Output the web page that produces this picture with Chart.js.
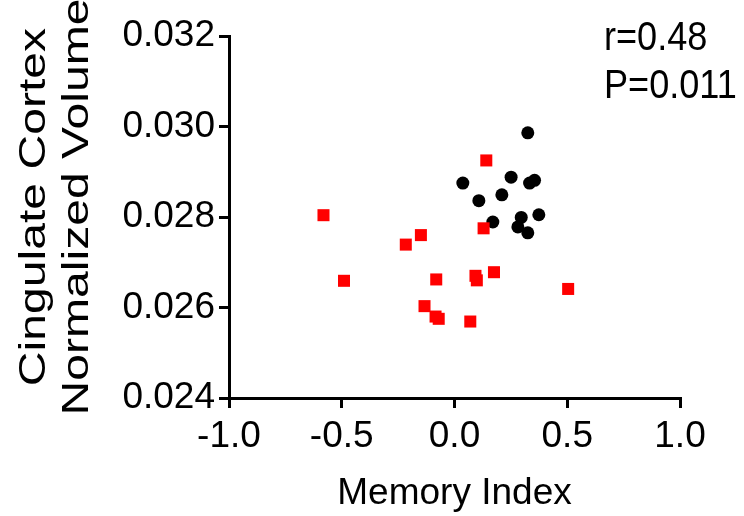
<!DOCTYPE html>
<html>
<head>
<meta charset="utf-8">
<script src="https://cdn.jsdelivr.net/npm/chart.js@4"></script>
<style>
  html, body { margin: 0; padding: 0; background: #fff; }
  #wrap { width: 744px; height: 516px; }
</style>
</head>
<body>
<div id="wrap"><canvas id="chart" width="744" height="516"></canvas></div>
<script>
// memory index vs cingulate cortex normalized volume
const redX = [-0.581, -0.490, -0.216, -0.149, -0.081, -0.133, -0.084, -0.070, 0.070, 0.141, 0.129, 0.093, 0.099, 0.175, 0.504];
const redY = [0.02804, 0.02659, 0.02739, 0.02760, 0.02662, 0.02603, 0.02580, 0.02575, 0.02569, 0.02925, 0.02775, 0.02670, 0.02660, 0.02678, 0.02641];

const blackX = [0.325, 0.037, 0.251, 0.333, 0.355, 0.108, 0.210, 0.170, 0.296, 0.281, 0.325, 0.374];
const blackY = [0.02986, 0.02875, 0.02888, 0.02875, 0.02881, 0.02836, 0.02849, 0.02789, 0.02799, 0.02778, 0.02765, 0.02805];

const xTicks = [-1.0, -0.5, 0.0, 0.5, 1.0];
const yTicks = [0.024, 0.026, 0.028, 0.030, 0.032];
const yTitle = ['Cingulate Cortex', 'Normalized Volume'];
const statLines = ['r=0.48', 'P=0.011'];

const FONT = "'Liberation Sans', Arial, sans-serif";

function toPoints(xs, ys) {
  return xs.map((x, i) => ({ x: x, y: ys[i] }));
}

// stats text in the top right corner
const statsText = {
  id: 'statsText',
  afterDraw(chart) {
    const ctx = chart.ctx;
    const area = chart.chartArea;
    ctx.save();
    ctx.fillStyle = '#000';
    ctx.font = '38px ' + FONT;
    ctx.textAlign = 'left';
    ctx.textBaseline = 'alphabetic';
    statLines.forEach((t, i) => {
      ctx.save();
      ctx.translate(area.right - 76, area.top + 14 + i * 48);
      ctx.scale(0.95, 1.05);
      ctx.fillText(t, 0, 0);
      ctx.restore();
    });
    ctx.restore();
  }
};

// the y title in the reference is stretched along its length
const yTitleText = {
  id: 'yTitleText',
  afterDraw(chart) {
    const ctx = chart.ctx;
    const area = chart.chartArea;
    const midY = (area.top + area.bottom) / 2 - 10;
    ctx.save();
    ctx.fillStyle = '#000';
    ctx.font = '37px ' + FONT;
    ctx.textAlign = 'center';
    ctx.textBaseline = 'alphabetic';
    yTitle.forEach((t, i) => {
      ctx.save();
      ctx.translate(45 + i * 43, midY);
      ctx.rotate(-Math.PI / 2);
      ctx.scale(1.3, 1);
      ctx.fillText(t, 0, 0);
      ctx.restore();
    });
    ctx.restore();
  }
};

const ctx = document.getElementById('chart').getContext('2d');
const chart = new Chart(ctx, {
  type: 'scatter',
  data: {
    datasets: [
      {
        label: 'red',
        data: toPoints(redX, redY),
        pointStyle: 'rect',
        pointRadius: 8.5,
        pointHoverRadius: 8.5,
        backgroundColor: '#ff0000',
        borderColor: '#ff0000',
        borderWidth: 0
      },
      {
        label: 'black',
        data: toPoints(blackX, blackY),
        pointStyle: 'circle',
        pointRadius: 6.5,
        pointHoverRadius: 6.5,
        backgroundColor: '#000',
        borderColor: '#000',
        borderWidth: 0
      }
    ]
  },
  options: {
    responsive: false,
    animation: false,
    devicePixelRatio: 1,
    layout: { padding: { left: 0, right: 64, top: 36, bottom: 0 } },
    plugins: {
      legend: { display: false },
      tooltip: { enabled: false }
    },
    scales: {
      x: {
        type: 'linear',
        min: -1,
        max: 1,
        afterBuildTicks: s => { s.ticks = xTicks.map(v => ({ value: v })); },
        afterFit: s => { s.height = 118; },
        border: { color: '#000', width: 3 },
        grid: { drawOnChartArea: false, drawTicks: true, tickLength: 10, color: '#000', lineWidth: 3 },
        ticks: {
          color: '#000',
          font: { family: FONT, size: 37 },
          padding: 7,
          callback: v => v.toFixed(1)
        },
        title: {
          display: true,
          text: 'Memory Index',
          color: '#000',
          font: { family: FONT, size: 37 },
          padding: { top: 0, bottom: 0 }
        }
      },
      y: {
        type: 'linear',
        min: 0.024,
        max: 0.032,
        afterBuildTicks: s => { s.ticks = yTicks.map(v => ({ value: v })); },
        afterFit: s => { s.width = 229; },
        border: { color: '#000', width: 3 },
        grid: { drawOnChartArea: false, drawTicks: true, tickLength: 10, color: '#000', lineWidth: 3 },
        ticks: {
          color: '#000',
          font: { family: FONT, size: 37 },
          padding: 4,
          callback: v => v.toFixed(3)
        },
        title: { display: false }
      }
    }
  },
  plugins: [statsText, yTitleText]
});
</script>
</body>
</html>
